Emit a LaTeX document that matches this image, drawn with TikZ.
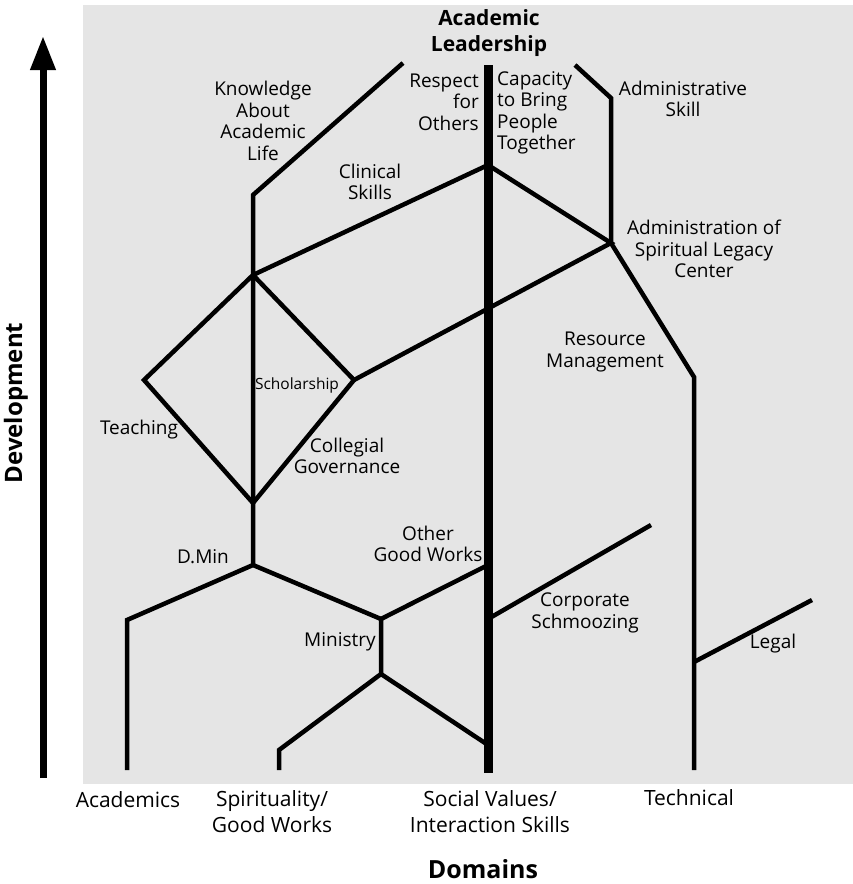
\documentclass[tikz,border=0pt]{standalone}
\usepackage{fontspec}
\setmainfont{Open Sans}
\usetikzlibrary{arrows.meta}
\definecolor{bg}{RGB}{229,229,229}
\begin{document}
\begin{tikzpicture}[x=1pt,y=-1pt,
  br/.style={line width=4.5pt, line cap=butt, line join=miter},
  mainbr/.style={line width=9pt, line cap=butt},
  lbl/.style={font=\fontsize{19}{21.5}\selectfont, align=center, inner sep=0pt},
  small/.style={font=\fontsize{15.5}{18}\selectfont, align=center, inner sep=0pt},
  dom/.style={font=\fontsize{21}{25.5}\selectfont, align=center, inner sep=0pt},
  ttl/.style={font=\bfseries\fontsize{21}{26}\selectfont, align=center, inner sep=0pt}]
\useasboundingbox (0,0) rectangle (853,884);
\fill[bg] (83,5) rectangle (853,784);
% junctions
\coordinate (acb) at (127,770);
\coordinate (acs) at (127,620);
\coordinate (dmin) at (253,565);
\coordinate (dbot) at (253,503);
\coordinate (dtop) at (253,275);
\coordinate (dleft) at (144,380);
\coordinate (dright) at (354,380);
\coordinate (kbend) at (253,195);
\coordinate (ktop) at (403,63);
\coordinate (mtop) at (488,65);
\coordinate (mbot) at (488,773);
\coordinate (cap) at (488,165);
\coordinate (adm) at (611,243);
\coordinate (askb) at (611,98);
\coordinate (askt) at (575,65);
\coordinate (rm) at (694,377);
\coordinate (tb) at (694,770);
\coordinate (lg0) at (694,662);
\coordinate (lg1) at (812,600);
\coordinate (cs0) at (488,619);
\coordinate (cs1) at (651,525);
\coordinate (min1) at (381,619);
\coordinate (min2) at (381,674);
\coordinate (og) at (488,565);
\coordinate (spb) at (279,750);
\coordinate (spe) at (279,770);
\coordinate (svj) at (488,745);
% branches
\draw[br] (acb) -- (acs) -- (dmin) -- (min1) -- (min2) -- (spb) -- (spe);
\draw[br] (min2) -- (svj);
\draw[br] (min1) -- (og);
\draw[br] (dmin) -- (kbend) -- (ktop);
\draw[br] (dbot) -- (dleft) -- (dtop) -- (dright) -- cycle;
\draw[br] (dtop) -- (cap) -- (adm) -- (dright);
\draw[br] (askt) -- (askb) -- (adm) -- (rm) -- (tb);
\draw[br] (lg0) -- (lg1);
\draw[br] (cs0) -- (cs1);
\draw[mainbr] (mtop) -- (mbot);
% development arrow
\coordinate (arb) at (43,778);
\coordinate (art) at (43,36);
\draw[line width=7pt, -{Triangle[length=34pt,width=24pt]}] (arb) -- (art);
\node[ttl, font=\bfseries\fontsize{24}{28}\selectfont, rotate=90] (dev) at (16,403) {Development};
% labels
\node[ttl] (al) at (489,33) {Academic\\Leadership};
\node[lbl] (kn) at (263,121) {Knowledge\\About\\Academic\\Life};
\node[lbl] (cl) at (370,182) {Clinical\\Skills};
\node[lbl, align=right, anchor=east] (rs) at (479,102) {Respect\\for\\Others};
\node[lbl, align=left, anchor=west] (cp) at (497,113) {Capacity\\to Bring\\People\\Together};
\node[lbl] (as) at (683,99) {Administrative\\Skill};
\node[lbl] (asl) at (704,249) {Administration of\\Spiritual Legacy\\Center};
\node[lbl] (rmg) at (605,352) {Resource\\Management};
\node[small] (sch) at (297,385) {Scholarship};
\node[lbl] (te) at (139,430) {Teaching};
\node[lbl] (cg) at (347,456) {Collegial\\Governance};
\node[lbl] (dm) at (203,557) {D.Min};
\node[lbl] (ogw) at (428,544) {Other\\Good Works};
\node[lbl] (csz) at (585,613) {Corporate\\Schmoozing};
\node[lbl] (mi) at (340,642) {Ministry};
\node[lbl] (le) at (773,644) {Legal};
% domains
\node[dom, anchor=base] (d1) at (128,807) {Academics};
\node[dom, anchor=base] (d2) at (272,832) {Spirituality/\\Good Works};
\node[dom, anchor=base] (d3) at (490,832) {Social Values/\\Interaction Skills};
\node[dom, anchor=base] (d4) at (689,805) {Technical};
\node[ttl, font=\bfseries\fontsize{25}{28}\selectfont, anchor=base] (dd) at (483,878) {Domains};
\end{tikzpicture}
\end{document}
